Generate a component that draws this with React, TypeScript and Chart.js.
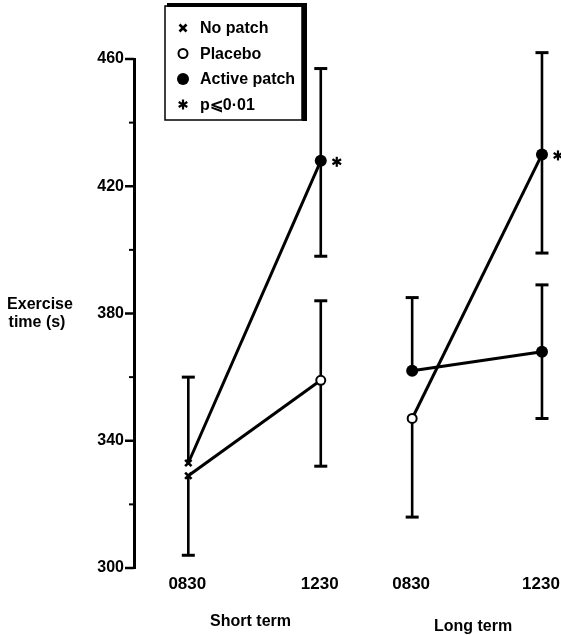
import React, { useEffect, useRef } from "react";
import { Chart, registerables } from "chart.js";

Chart.register(...registerables);

// ---- Data ----
const timeLabels = ["0830", "1230"];
const groupLabels = ["Short term", "Long term"];
const yMin = 300;
const yMax = 460;
const yStep = 20;
const yLabelStep = 40;

const legendLabels = ["No patch", "Placebo", "Active patch", "p\u2A7D0\u00B701"];
const legendMarkers = ["cross", "open", "filled", "star"];

// each line: group index, values at 0830 / 1230
const seriesGroup = [0, 0, 1, 1];
const shortActive = [333, 428];
const shortPlacebo = [329, 359];
const longRising = [347, 430];
const longFlat = [362, 368];

const shortActiveUpper = [360, 457];
const shortActiveLower = [null, 398];
const shortPlaceboUpper = [null, 384];
const shortPlaceboLower = [304, 332];
const longRisingUpper = [null, 462];
const longRisingLower = [316, 399];
const longFlatUpper = [385, 389];
const longFlatLower = [null, 347];

const shortActiveMarkers = ["cross", "filled"];
const shortPlaceboMarkers = ["cross", "open"];
const longRisingMarkers = ["open", "filled"];
const longFlatMarkers = ["filled", "filled"];

const shortActiveSig = [false, true];
const shortPlaceboSig = [false, false];
const longRisingSig = [false, true];
const longFlatSig = [false, false];

// ---- layout constants (not data) ----
const GROUP_OFFSET = 1.69;
const FONT = "'Liberation Sans', Arial, sans-serif";

const seriesValues = [shortActive, shortPlacebo, longRising, longFlat];
const seriesUpper = [shortActiveUpper, shortPlaceboUpper, longRisingUpper, longFlatUpper];
const seriesLower = [shortActiveLower, shortPlaceboLower, longRisingLower, longFlatLower];
const seriesMarkers = [shortActiveMarkers, shortPlaceboMarkers, longRisingMarkers, longFlatMarkers];
const seriesSig = [shortActiveSig, shortPlaceboSig, longRisingSig, longFlatSig];

const xOf = (g: number, t: number) => g * GROUP_OFFSET + t * (g === 0 ? 1 : 0.98);
const isMajor = (v: number) => (v - yMin) % yLabelStep === 0;

function drawStar(ctx: CanvasRenderingContext2D, x: number, y: number, r: number) {
  ctx.save();
  ctx.strokeStyle = "#000";
  ctx.lineWidth = 2.2;
  ctx.lineCap = "butt";
  for (let k = 0; k < 3; k++) {
    const a = Math.PI / 2 + (k * Math.PI) / 3;
    ctx.beginPath();
    ctx.moveTo(x - r * Math.cos(a), y - r * Math.sin(a));
    ctx.lineTo(x + r * Math.cos(a), y + r * Math.sin(a));
    ctx.stroke();
  }
  ctx.restore();
}

function drawMarker(ctx: CanvasRenderingContext2D, kind: string, x: number, y: number) {
  ctx.save();
  ctx.strokeStyle = "#000";
  ctx.fillStyle = "#000";
  if (kind === "cross") {
    const r = 3.5;
    ctx.lineWidth = 2.6;
    ctx.beginPath();
    ctx.moveTo(x - r, y - r);
    ctx.lineTo(x + r, y + r);
    ctx.moveTo(x + r, y - r);
    ctx.lineTo(x - r, y + r);
    ctx.stroke();
  } else if (kind === "open") {
    ctx.lineWidth = 2;
    ctx.fillStyle = "#fff";
    ctx.beginPath();
    ctx.arc(x, y, 4.5, 0, Math.PI * 2);
    ctx.fill();
    ctx.stroke();
  } else if (kind === "filled") {
    ctx.beginPath();
    ctx.arc(x, y, 6, 0, Math.PI * 2);
    ctx.fill();
  } else if (kind === "star") {
    drawStar(ctx, x, y, 5);
  }
  ctx.restore();
}

const overlay = {
  id: "overlay",
  beforeDatasetsDraw(chart: any) {
    const ctx: CanvasRenderingContext2D = chart.ctx;
    const xs = chart.scales.x;
    const ys = chart.scales.y;
    ctx.save();
    ctx.strokeStyle = "#000";
    seriesValues.forEach((vals, si) => {
      vals.forEach((v, t) => {
        const px = xs.getPixelForValue(xOf(seriesGroup[si], t));
        const py = ys.getPixelForValue(v);
        const ends = [seriesUpper[si][t], seriesLower[si][t]];
        ends.forEach((e) => {
          if (e === null || e === undefined) return;
          const pe = ys.getPixelForValue(e);
          ctx.lineWidth = 2.6;
          ctx.beginPath();
          ctx.moveTo(px, py);
          ctx.lineTo(px, pe);
          ctx.stroke();
          ctx.lineWidth = 3;
          ctx.beginPath();
          ctx.moveTo(px - 6.5, pe);
          ctx.lineTo(px + 6.5, pe);
          ctx.stroke();
        });
      });
    });
    ctx.restore();
  },
  afterDraw(chart: any) {
    const ctx: CanvasRenderingContext2D = chart.ctx;
    const xs = chart.scales.x;
    const ys = chart.scales.y;
    const area = chart.chartArea;
    ctx.save();
    ctx.fillStyle = "#000";
    ctx.strokeStyle = "#000";

    // y tick marks
    for (let v = yMin; v <= yMax; v += yStep) {
      const py = ys.getPixelForValue(v);
      const major = isMajor(v);
      ctx.lineWidth = major ? 2.5 : 2;
      ctx.beginPath();
      ctx.moveTo(area.left - (major ? 9 : 5), py);
      ctx.lineTo(area.left, py);
      ctx.stroke();
    }

    // x tick labels
    ctx.font = `bold 17px ${FONT}`;
    ctx.textAlign = "center";
    ctx.textBaseline = "middle";
    groupLabels.forEach((g, gi) => {
      timeLabels.forEach((tl, t) => {
        const px = xs.getPixelForValue(xOf(gi, t));
        ctx.fillText(tl, px - 1, 584);
      });
    });

    // group labels
    ctx.font = `bold 16px ${FONT}`;
    groupLabels.forEach((g, gi) => {
      const px = (xs.getPixelForValue(xOf(gi, 0)) + xs.getPixelForValue(xOf(gi, 1))) / 2;
      ctx.fillText(g, px - 4, 622 + gi * 5);
    });

    // y title
    ctx.font = `bold 16px ${FONT}`;
    ctx.fillText("Exercise", 40, 305);
    ctx.fillText("time (s)", 37, 323);

    // significance asterisks
    seriesValues.forEach((vals, si) => {
      vals.forEach((v, t) => {
        if (!seriesSig[si][t]) return;
        const px = xs.getPixelForValue(xOf(seriesGroup[si], t));
        const py = ys.getPixelForValue(v);
        drawStar(ctx, px + 16, py + 1, 5);
      });
    });

    // legend box
    const L = 165, T = 6, R = 302, B = 120;
    ctx.fillStyle = "#fff";
    ctx.fillRect(L, T, R - L, B - T);
    ctx.lineWidth = 1.5;
    ctx.strokeRect(L, T, R - L, B - T);
    ctx.fillStyle = "#000";
    ctx.fillRect(L + 2, T - 3, R - L + 3, 4);
    ctx.fillRect(R, T - 3, 5, B - T + 4);

    ctx.font = `bold 16px ${FONT}`;
    ctx.textAlign = "left";
    legendLabels.forEach((lab, i) => {
      const cy = 28 + i * 25.5;
      drawMarker(ctx, legendMarkers[i], 183, cy);
      ctx.fillStyle = "#000";
      ctx.fillText(lab, 200, cy + 1);
    });
    ctx.restore();
  },
};

export default function App() {
  const ref = useRef<HTMLCanvasElement | null>(null);
  useEffect(() => {
    if (!ref.current) return;
    const datasets = seriesValues.map((vals, si) => {
      const markers = seriesMarkers[si];
      return {
        label: `series${si}`,
        data: vals.map((v, t) => ({ x: xOf(seriesGroup[si], t), y: v })),
        showLine: true,
        borderColor: "#000",
        borderWidth: 3,
        pointStyle: markers.map((m) => (m === "cross" ? "crossRot" : "circle")),
        pointRadius: markers.map((m) => (m === "cross" ? 4.5 : m === "open" ? 4.5 : 6)),
        pointBorderWidth: markers.map((m) => (m === "cross" ? 2.6 : m === "open" ? 2 : 0)),
        pointBackgroundColor: markers.map((m) => (m === "open" ? "#fff" : "#000")),
        pointBorderColor: "#000",
        clip: false as any,
      };
    });
    const chart = new Chart(ref.current, {
      type: "scatter",
      data: { datasets },
      options: {
        animation: false,
        responsive: false,
        events: [],
        layout: { padding: { top: 59, bottom: 67, left: 0, right: 0 } },
        plugins: { legend: { display: false }, tooltip: { enabled: false } },
        scales: {
          x: {
            type: "linear",
            display: false,
            min: -0.41,
            max: 2.76,
          },
          y: {
            type: "linear",
            min: yMin,
            max: yMax,
            afterFit: (scale: any) => {
              scale.width = 134;
            },
            ticks: {
              stepSize: yStep,
              autoSkip: false,
              padding: 10,
              color: "#000",
              font: { family: FONT, size: 16, weight: "bold" },
              callback: (v: any) => (isMajor(Number(v)) ? String(v) : ""),
            },
            grid: { display: false, drawTicks: false },
            border: { display: true, color: "#000", width: 3 },
          },
        },
      },
      plugins: [overlay],
    });
    return () => chart.destroy();
  }, []);
  return (
    <canvas
      ref={ref}
      width={561}
      height={635}
      style={{ position: "absolute", left: 0, top: 0, display: "block", background: "#fff" }}
    />
  );
}
